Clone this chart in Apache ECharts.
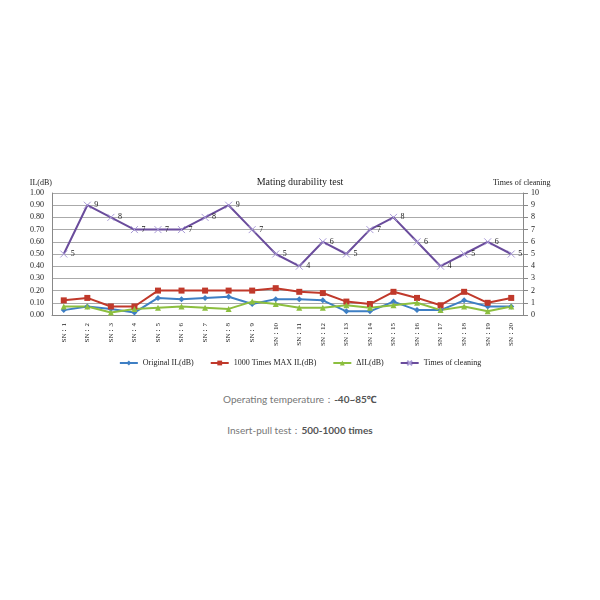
<!DOCTYPE html>
<html>
<head>
<meta charset="utf-8">
<script src="https://cdn.jsdelivr.net/npm/echarts@6/dist/echarts.min.js"></script>
<style>
body{margin:0;background:#fff;}
#chart{position:absolute;left:0;top:160px;width:600px;height:220px;}
.note{position:absolute;left:0;width:600px;text-align:center;font-family:Lato,"Noto Sans",sans-serif;font-size:10px;color:#777;}
.note b{color:#555;font-weight:bold;}
</style>
</head>
<body>
<div id="chart"></div>
<div class="note" style="top:392px;">Operating temperature：<b>-40~85℃</b></div>
<div class="note" style="top:424px;">Insert-pull test：<b>500-1000 times</b></div>
<script type="text/javascript">
	var categories = [];
	for (var i = 1; i <= 20; i++) categories.push('SN：' + i);
	var originalIL = [0.04,0.07,0.05,0.02,0.14,0.13,0.14,0.15,0.09,0.13,0.13,0.12,0.03,0.03,0.11,0.04,0.04,0.12,0.07,0.07];
	var maxIL = [0.12,0.14,0.07,0.07,0.20,0.20,0.20,0.20,0.20,0.22,0.19,0.18,0.11,0.09,0.19,0.14,0.08,0.19,0.10,0.14];
	var deltaIL = [0.07,0.07,0.02,0.05,0.06,0.07,0.06,0.05,0.11,0.09,0.06,0.06,0.08,0.06,0.08,0.10,0.04,0.07,0.03,0.07];
	var cleaning = [5,9,8,7,7,7,8,9,7,5,4,6,5,7,8,6,4,5,6,5];

	var font = 'Liberation Serif';
	var chart = echarts.init(document.getElementById('chart'));
	chart.setOption({
		animation: false,
		textStyle: {fontFamily: font},
		title: {text: 'Mating durability test', left: 'center', top: 12,
			textStyle: {fontSize: 10, fontWeight: 'normal', color: '#222', fontFamily: font}},
		legend: {
			bottom: 8, itemWidth: 18, itemHeight: 6, itemGap: 16,
			textStyle: {fontSize: 8, color: '#222', fontFamily: font},
			data: ['Original IL(dB)', '1000 Times MAX IL(dB)', 'ΔIL(dB)', 'Times of cleaning']
		},
		grid: {left: 52, right: 77, top: 33, bottom: 65},
		xAxis: {
			type: 'category', data: categories, boundaryGap: true,
			axisLine: {lineStyle: {color: '#888'}}, axisTick: {show: false},
			axisLabel: {rotate: 90, fontSize: 7, color: '#222', interval: 0}
		},
		yAxis: [{
			type: 'value', min: 0, max: 1, interval: 0.1, name: 'IL(dB)', nameGap: 6,
			nameTextStyle: {fontSize: 8, color: '#222', align: 'right', padding: [0, 0, 0, 0]},
			axisLine: {show: true, lineStyle: {color: '#888'}},
			axisLabel: {fontSize: 8, color: '#222', formatter: function (v) { return v.toFixed(2); }},
			splitLine: {lineStyle: {color: '#aaa'}}
		}, {
			type: 'value', min: 0, max: 10, interval: 1, name: 'Times of cleaning', nameGap: 6,
			nameTextStyle: {fontSize: 8, color: '#222', align: 'left', padding: [0, 0, 0, -30]},
			axisLine: {show: true, lineStyle: {color: '#888'}}, axisTick: {show: true},
			axisLabel: {fontSize: 8, color: '#222'},
			splitLine: {show: false}
		}],
		series: [{
			name: 'Original IL(dB)', type: 'line', data: originalIL,
			symbol: 'diamond', symbolSize: 6, color: '#3e7fc4', lineStyle: {width: 2}
		}, {
			name: '1000 Times MAX IL(dB)', type: 'line', data: maxIL,
			symbol: 'rect', symbolSize: 6, color: '#c0392b', lineStyle: {width: 2}
		}, {
			name: 'ΔIL(dB)', type: 'line', data: deltaIL,
			symbol: 'triangle', symbolSize: 6, color: '#8cbf3f', lineStyle: {width: 2}
		}, {
			name: 'Times of cleaning', type: 'line', yAxisIndex: 1, data: cleaning,
			symbol: 'path://M0,0L10,10M10,0L0,10', symbolSize: 7, color: '#6a4c9c',
			itemStyle: {borderColor: '#a99bd6', borderWidth: 1}, lineStyle: {width: 2},
			label: {show: true, position: 'right', fontSize: 8, color: '#222', distance: 3}
		}]
	});
</script>
</body>
</html>
